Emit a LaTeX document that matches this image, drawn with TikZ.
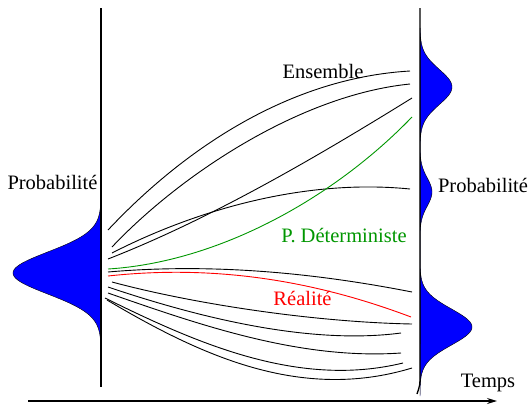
\documentclass[tikz,border=0pt]{standalone}
\usepackage{fontspec}
\setmainfont{Liberation Serif}
\usetikzlibrary{arrows.meta}
\definecolor{detgreen}{RGB}{0,150,0}
\begin{document}
\begin{tikzpicture}[x=1pt,y=-1pt,
  traj/.style={line width=0.9pt, black},
  axisline/.style={line width=1.3pt, black},
  dens/.style={fill=blue, draw=black, line width=0.4pt},
  lbl/.style={font=\fontsize{20.5}{24}\selectfont, anchor=base, inner sep=0pt}]
\useasboundingbox (0,0) rectangle (530,405);
% densities
\fill[dens] plot[domain=206:342, samples=120]
  ({101-88*exp(-0.5*((\x-273)/21)*((\x-273)/21))}, \x) -- cycle;
\fill[dens] plot[domain=28:396, samples=300]
  ({420+32*exp(-min(20,0.5*((\x-87)/17.5)*((\x-87)/17.5)))
      +12*exp(-min(20,0.5*((\x-192)/14)*((\x-192)/14)))
      +52*exp(-min(20,0.5*((\x-327)/18)*((\x-327)/18)))}, \x) -- cycle;
% vertical lines
\draw[axisline] (101,8) -- (101,387);
\draw[axisline] (420,8) -- (420,375) .. controls (420,385) .. (417,394);
% time arrow
\draw[line width=1.2pt, -{Stealth[length=10pt,width=6pt]}] (28,401) -- (497,401);
% upper ensemble
\draw[traj] (108,230) .. controls (185,148) and (290,78) .. (410,71);
\draw[traj] (112,247) .. controls (180,175) and (300,95) .. (410,84);
\draw[traj] (108,259) .. controls (208,220) and (312,160) .. (412,98);
\draw[traj] (112,253) .. controls (190,213) and (300,178) .. (410,189);
% deterministic
\draw[traj, detgreen] (108,269) .. controls (220,262) and (335,197) .. (412,117);
% lower ensemble
\draw[traj] (108,272) .. controls (200,264) and (300,270) .. (412,292);
\draw[traj, red] (108,276) .. controls (200,266) and (300,275) .. (411,317);
\draw[traj] (112,282) .. controls (190,303) and (310,322) .. (412,324);
\draw[traj] (108,287) .. controls (200,318) and (310,345) .. (401,333);
\draw[traj] (108,293) .. controls (200,325) and (300,360) .. (401,353);
\draw[traj] (105,298) .. controls (200,345) and (300,388) .. (403,363);
\draw[traj] (107,300) .. controls (200,355) and (300,402) .. (412,368);
% labels
\node[lbl] (probL) at (52.5,189) {Probabilité};
\node[lbl] (probR) at (483,192) {Probabilité};
\node[lbl] (ens) at (323,78) {Ensemble};
\node[lbl, text=detgreen] (det) at (344,242) {P. Déterministe};
\node[lbl, text=red] (real) at (302.5,305) {Réalité};
\node[lbl] (temps) at (488,387) {Temps};
\end{tikzpicture}
\end{document}
